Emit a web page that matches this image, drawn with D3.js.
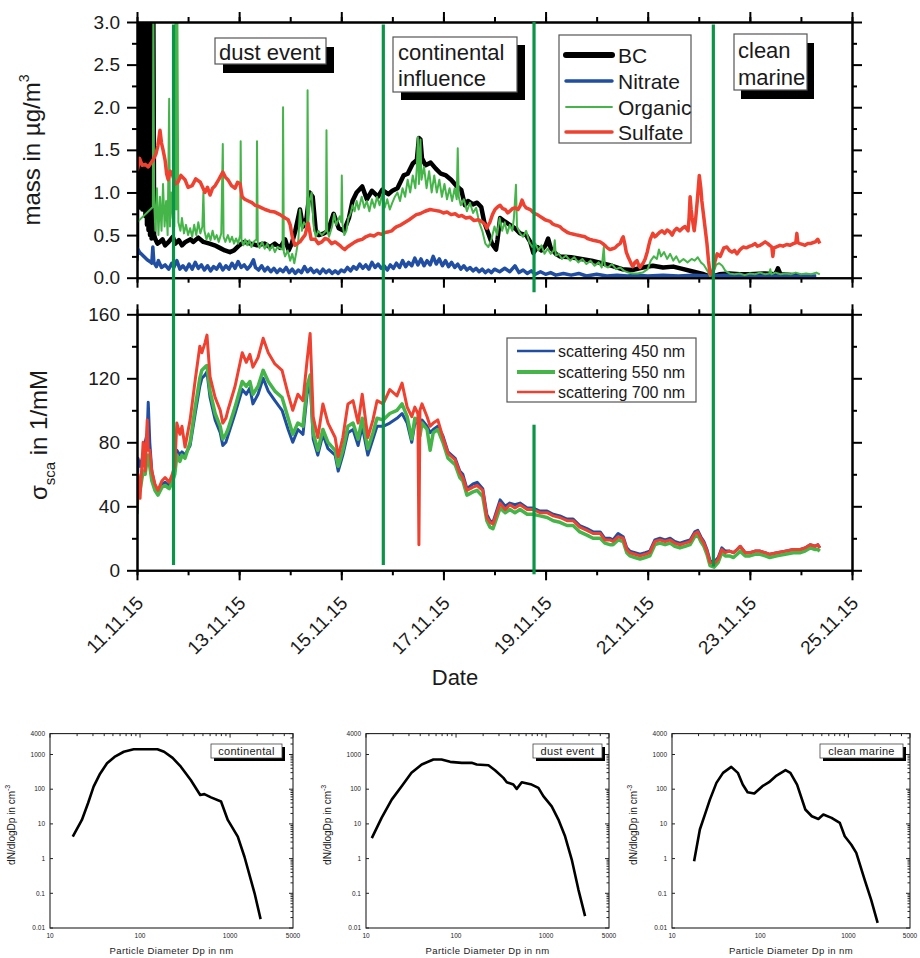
<!DOCTYPE html>
<html><head><meta charset="utf-8">
<script src="https://cdn.jsdelivr.net/npm/d3@7"></script>
<style>
body{margin:0;background:#fff}
svg{display:block}
text{font-family:"Liberation Sans",Arial,sans-serif;fill:#1a1a1a}
</style>
</head><body>
<svg id="chart" width="920" height="958"></svg>
<script>
// ---------------- DATA (time = day of November 2015, decimal) ----------------
const bcData = [[11.00,0.30],[11.005,3.2],[11.01,0.85],[11.02,3.2],[11.03,0.82],[11.04,3.2],[11.05,0.85],[11.06,3.2],[11.075,0.88],[11.09,3.2],[11.105,0.80],[11.12,3.2],[11.135,0.82],[11.15,3.2],[11.165,0.72],[11.18,3.2],[11.195,0.62],[11.21,3.2],[11.225,0.56],[11.24,3.2],[11.255,0.50],[11.27,3.2],[11.285,0.46],[11.30,0.60],[11.32,3.2],[11.335,0.50],
[11.36,0.45],[11.40,0.40],[11.45,0.42],[11.50,0.45],[11.55,0.38],[11.62,0.42],[11.70,0.48],[11.75,0.40],[11.82,0.44],[11.88,0.38],[11.95,0.42],[12.05,0.45],[12.10,0.42],[12.20,0.47],[12.30,0.42],[12.42,0.40],[12.52,0.38],[12.62,0.35],[12.72,0.32],[12.82,0.30],[12.90,0.32],[13.00,0.38],[13.10,0.42],[13.22,0.40],[13.35,0.38],[13.50,0.40],[13.60,0.36],[13.70,0.40],[13.80,0.35],[13.90,0.45],[13.97,0.32],[14.03,0.40],[14.10,0.55],[14.19,0.80],[14.25,0.60],[14.32,0.70],[14.38,1.00],[14.44,0.95],[14.50,0.55],[14.56,0.50],[14.66,0.52],[14.74,0.55],[14.85,0.75],[14.95,0.58],[15.05,0.55],[15.15,0.70],[15.22,0.90],[15.30,1.00],[15.41,1.07],[15.50,0.92],[15.60,1.02],[15.72,0.95],[15.80,1.03],[15.92,0.98],[16.00,1.02],[16.10,1.05],[16.22,1.20],[16.30,1.22],[16.40,1.34],[16.48,1.38],[16.52,1.64],[16.55,1.62],[16.58,1.40],[16.65,1.32],[16.75,1.35],[16.85,1.28],[16.95,1.22],[17.05,1.20],[17.15,1.15],[17.25,1.08],[17.35,1.03],[17.42,0.85],[17.48,0.90],[17.58,0.86],[17.66,0.88],[17.74,0.83],[17.80,0.65],[17.86,0.55],[17.95,0.40],[18.03,0.33],[18.06,0.45],[18.11,0.70],[18.20,0.66],[18.30,0.62],[18.40,0.58],[18.50,0.52],[18.62,0.50],[18.70,0.42],[18.76,0.29],[18.84,0.36],[18.92,0.32],[19.00,0.38],[19.05,0.46],[19.10,0.35],[19.20,0.28],[19.28,0.25],[19.50,0.24],[19.70,0.22],[19.90,0.20],[20.10,0.17],[20.30,0.14],[20.50,0.10],[20.70,0.09],[20.90,0.12],[21.10,0.14],[21.30,0.12],[21.50,0.13],[21.70,0.10],[21.90,0.07],[22.10,0.04],[22.25,0.01],[22.40,0.04],[22.60,0.05],[22.80,0.04],[23.00,0.04],[23.30,0.05],[23.50,0.04],[23.55,0.11],[23.60,0.04],[23.90,0.03],[24.00,0.03]];

const nitrateData = [[11.00,0.20],[11.01,0.34],[11.05,0.30],[11.10,0.27],[11.15,0.24],[11.20,0.21],[11.25,0.19],[11.29,0.17],[11.31,0.36],[11.33,0.18],[11.38,0.13],[11.42,0.20],[11.48,0.12],[11.55,0.15],[11.62,0.10],[11.68,0.17],[11.72,0.12],[11.78,0.20],[11.84,0.10],[11.90,0.14],[11.96,0.09],[12.02,0.16],[12.08,0.10],[12.14,0.18],[12.20,0.11],[12.26,0.15],[12.32,0.09],[12.38,0.14],[12.44,0.08],[12.50,0.13],[12.56,0.10],[12.62,0.16],[12.68,0.09],[12.74,0.14],[12.80,0.10],[12.86,0.17],[12.92,0.11],[12.98,0.19],[13.04,0.12],[13.10,0.15],[13.16,0.10],[13.22,0.14],[13.28,0.21],[13.32,0.12],[13.38,0.09],[13.44,0.14],[13.50,0.08],[13.56,0.12],[13.62,0.07],[13.68,0.11],[13.74,0.06],[13.80,0.10],[13.86,0.07],[13.92,0.12],[13.98,0.06],[14.04,0.10],[14.10,0.05],[14.16,0.09],[14.22,0.06],[14.28,0.13],[14.34,0.07],[14.40,0.11],[14.46,0.06],[14.52,0.09],[14.58,0.05],[14.64,0.10],[14.70,0.06],[14.76,0.09],[14.82,0.05],[14.88,0.08],[14.94,0.05],[15.00,0.09],[15.06,0.07],[15.12,0.12],[15.18,0.08],[15.24,0.13],[15.30,0.10],[15.36,0.16],[15.42,0.11],[15.48,0.15],[15.54,0.10],[15.60,0.18],[15.66,0.12],[15.72,0.16],[15.78,0.11],[15.84,0.14],[15.90,0.09],[15.96,0.15],[16.02,0.11],[16.08,0.17],[16.14,0.12],[16.20,0.20],[16.26,0.13],[16.32,0.18],[16.38,0.14],[16.44,0.23],[16.50,0.15],[16.56,0.22],[16.62,0.14],[16.68,0.20],[16.74,0.15],[16.80,0.25],[16.86,0.16],[16.92,0.22],[16.98,0.14],[17.04,0.20],[17.10,0.13],[17.16,0.18],[17.22,0.12],[17.28,0.16],[17.34,0.10],[17.40,0.14],[17.46,0.09],[17.52,0.12],[17.58,0.08],[17.64,0.11],[17.70,0.07],[17.76,0.10],[17.82,0.06],[17.88,0.09],[17.94,0.06],[18.00,0.10],[18.10,0.07],[18.20,0.11],[18.30,0.07],[18.40,0.14],[18.48,0.06],[18.56,0.09],[18.64,0.05],[18.72,0.08],[18.80,0.04],[18.90,0.07],[19.00,0.04],[19.10,0.06],[19.20,0.03],[19.35,0.05],[19.50,0.03],[19.65,0.05],[19.80,0.02],[20.00,0.04],[20.20,0.02],[20.40,0.03],[20.60,0.02],[20.80,0.03],[21.00,0.02],[21.30,0.03],[21.60,0.02],[21.90,0.03],[22.20,0.02],[22.50,0.03],[22.80,0.02],[23.10,0.02],[23.40,0.02],[23.70,0.02],[24.00,0.02],[24.30,0.02]];

const organicData = [[11.00,0.65],[11.31,0.83],[11.32,3.2],[11.335,0.90],[11.36,0.55],[11.39,1.05],[11.42,0.50],[11.45,0.95],[11.48,0.55],[11.51,1.10],[11.54,0.60],[11.57,0.90],[11.60,0.50],[11.63,2.10],[11.645,0.60],[11.67,1.00],[11.70,0.70],[11.73,0.60],[11.755,3.2],[11.77,0.80],[11.79,3.2],[11.81,0.65],[11.85,0.55],[11.88,0.70],[11.92,0.52],[11.96,0.62],[12.00,0.50],[12.04,0.58],[12.08,0.48],[12.12,0.62],[12.16,0.50],[12.20,0.65],[12.24,0.52],[12.28,0.60],[12.30,1.00],[12.32,0.55],[12.36,0.45],[12.40,0.52],[12.44,0.44],[12.48,0.55],[12.52,0.45],[12.56,0.50],[12.60,0.42],[12.65,0.52],[12.68,1.57],[12.695,0.48],[12.73,0.42],[12.78,0.50],[12.82,0.42],[12.86,0.48],[12.90,0.40],[12.94,0.46],[12.98,0.40],[13.02,0.50],[13.03,1.60],[13.045,0.45],[13.08,0.38],[13.12,0.45],[13.16,0.38],[13.20,0.44],[13.24,0.36],[13.28,0.42],[13.34,0.45],[13.35,1.60],[13.365,0.40],[13.40,0.35],[13.45,0.42],[13.50,0.34],[13.55,0.40],[13.60,0.32],[13.65,0.38],[13.70,0.30],[13.75,0.36],[13.85,0.33],[13.86,2.00],[13.875,0.30],[13.90,0.25],[13.95,0.32],[14.00,0.20],[14.04,0.28],[14.08,0.17],[14.12,0.30],[14.16,0.45],[14.19,0.80],[14.23,0.55],[14.27,0.65],[14.33,0.60],[14.34,2.20],[14.355,0.65],[14.38,0.90],[14.42,1.00],[14.46,0.60],[14.50,0.48],[14.55,0.55],[14.62,0.50],[14.70,0.55],[14.71,1.73],[14.725,0.55],[14.76,0.48],[14.82,0.60],[14.86,0.75],[14.90,0.62],[14.97,0.72],[15.00,0.65],[15.01,1.20],[15.025,0.62],[15.06,0.50],[15.10,0.55],[15.14,0.70],[15.18,0.75],[15.22,0.85],[15.26,0.78],[15.30,0.90],[15.34,0.80],[15.40,0.95],[15.45,0.82],[15.50,0.90],[15.55,0.78],[15.60,0.92],[15.65,0.82],[15.70,0.95],[15.75,0.85],[15.80,0.98],[15.85,0.82],[15.90,0.92],[15.95,0.80],[16.00,0.88],[16.05,0.95],[16.10,1.00],[16.15,0.90],[16.20,1.05],[16.25,0.95],[16.30,1.15],[16.35,1.00],[16.40,1.20],[16.45,1.05],[16.48,1.30],[16.50,1.65],[16.52,1.10],[16.55,1.62],[16.57,1.15],[16.62,1.30],[16.67,1.05],[16.72,1.25],[16.77,1.00],[16.82,1.20],[16.87,1.00],[16.92,1.15],[16.97,0.95],[17.02,1.10],[17.07,0.92],[17.12,1.05],[17.17,0.90],[17.22,1.05],[17.26,0.92],[17.28,1.52],[17.30,0.95],[17.34,0.85],[17.40,0.92],[17.46,0.78],[17.52,0.88],[17.58,0.76],[17.64,0.82],[17.70,0.65],[17.76,0.55],[17.82,0.40],[17.88,0.36],[17.94,0.45],[18.00,0.60],[18.05,0.50],[18.10,0.70],[18.15,0.55],[18.20,0.65],[18.25,0.52],[18.30,0.62],[18.35,0.55],[18.38,0.70],[18.42,1.09],[18.44,0.60],[18.50,0.52],[18.56,0.48],[18.62,0.55],[18.68,0.42],[18.74,0.36],[18.80,0.40],[18.86,0.32],[18.92,0.38],[18.98,0.28],[19.04,0.34],[19.10,0.28],[19.16,0.32],[19.18,0.44],[19.20,0.26],[19.26,0.28],[19.32,0.22],[19.40,0.26],[19.48,0.20],[19.56,0.24],[19.64,0.18],[19.72,0.22],[19.80,0.16],[19.88,0.20],[19.96,0.14],[20.04,0.18],[20.10,0.12],[20.14,0.36],[20.16,0.14],[20.22,0.12],[20.30,0.16],[20.38,0.10],[20.46,0.12],[20.54,0.08],[20.62,0.06],[20.70,0.05],[20.80,0.05],[20.90,0.06],[21.00,0.10],[21.06,0.20],[21.12,0.25],[21.18,0.22],[21.22,0.33],[21.26,0.25],[21.32,0.30],[21.38,0.22],[21.44,0.28],[21.50,0.20],[21.56,0.25],[21.62,0.18],[21.70,0.22],[21.78,0.18],[21.86,0.22],[21.92,0.20],[21.98,0.24],[22.04,0.18],[22.10,0.15],[22.17,0.08],[22.22,0.02],[22.28,0.05],[22.34,0.15],[22.40,0.17],[22.46,0.14],[22.52,0.08],[22.60,0.05],[22.70,0.04],[22.80,0.05],[22.90,0.03],[23.00,0.05],[23.10,0.04],[23.20,0.06],[23.30,0.04],[23.38,0.05],[23.40,0.10],[23.42,0.04],[23.50,0.06],[23.60,0.04],[23.70,0.05],[23.80,0.04],[23.90,0.06],[24.00,0.04],[24.10,0.05],[24.20,0.04],[24.30,0.06],[24.37,0.04]];

const sulfateData = [[11.00,1.25],[11.02,1.30],[11.05,1.40],[11.10,1.32],[11.16,1.33],[11.22,1.30],[11.29,1.36],[11.33,1.40],[11.37,1.45],[11.41,1.55],[11.45,1.73],[11.48,1.58],[11.51,1.50],[11.55,1.38],[11.58,1.22],[11.61,1.15],[11.65,1.25],[11.70,1.20],[11.75,1.10],[11.80,1.12],[11.86,1.20],[11.94,1.15],[12.00,1.06],[12.08,1.08],[12.15,1.16],[12.24,1.12],[12.30,1.04],[12.33,1.00],[12.38,1.06],[12.43,0.97],[12.48,1.05],[12.53,1.08],[12.60,1.15],[12.68,1.24],[12.73,1.18],[12.78,1.15],[12.85,1.08],[12.92,1.05],[12.97,1.12],[13.02,1.10],[13.04,1.02],[13.06,0.95],[13.11,0.92],[13.18,0.90],[13.25,0.88],[13.31,0.85],[13.37,0.84],[13.44,0.82],[13.51,0.80],[13.60,0.78],[13.70,0.77],[13.80,0.74],[13.90,0.70],[13.96,0.68],[14.00,0.62],[14.04,0.48],[14.09,0.38],[14.14,0.40],[14.19,0.42],[14.25,0.47],[14.29,0.50],[14.35,0.64],[14.38,0.55],[14.41,0.45],[14.49,0.45],[14.55,0.40],[14.62,0.42],[14.68,0.46],[14.74,0.45],[14.81,0.40],[14.88,0.42],[14.97,0.38],[15.02,0.35],[15.07,0.33],[15.12,0.36],[15.17,0.38],[15.27,0.42],[15.34,0.44],[15.41,0.45],[15.48,0.48],[15.56,0.50],[15.64,0.49],[15.72,0.52],[15.79,0.51],[15.86,0.53],[15.93,0.54],[15.99,0.55],[16.04,0.58],[16.09,0.60],[16.17,0.62],[16.25,0.65],[16.33,0.68],[16.40,0.71],[16.47,0.74],[16.54,0.75],[16.64,0.78],[16.74,0.80],[16.83,0.79],[16.93,0.78],[17.00,0.76],[17.07,0.77],[17.15,0.74],[17.23,0.75],[17.30,0.72],[17.36,0.73],[17.44,0.70],[17.52,0.71],[17.60,0.67],[17.68,0.68],[17.77,0.65],[17.82,0.62],[17.85,0.58],[17.88,0.62],[17.91,0.65],[17.96,0.74],[18.01,0.80],[18.06,0.83],[18.11,0.85],[18.16,0.81],[18.21,0.80],[18.26,0.76],[18.30,0.78],[18.35,0.81],[18.40,0.82],[18.46,0.80],[18.50,0.84],[18.54,0.91],[18.58,0.85],[18.62,0.82],[18.70,0.80],[18.75,0.77],[18.79,0.75],[18.84,0.74],[18.89,0.72],[18.94,0.70],[18.99,0.68],[19.04,0.67],[19.09,0.66],[19.14,0.63],[19.18,0.62],[19.23,0.61],[19.28,0.60],[19.33,0.57],[19.38,0.55],[19.43,0.53],[19.48,0.52],[19.55,0.51],[19.62,0.50],[19.70,0.49],[19.77,0.48],[19.82,0.46],[19.87,0.45],[19.93,0.44],[20.00,0.43],[20.07,0.42],[20.12,0.40],[20.16,0.38],[20.21,0.35],[20.26,0.33],[20.31,0.34],[20.36,0.35],[20.41,0.38],[20.46,0.40],[20.50,0.46],[20.52,0.48],[20.55,0.40],[20.58,0.30],[20.62,0.24],[20.65,0.20],[20.68,0.16],[20.71,0.13],[20.75,0.18],[20.79,0.20],[20.82,0.15],[20.85,0.12],[20.88,0.15],[20.91,0.17],[20.95,0.22],[20.99,0.30],[21.02,0.38],[21.05,0.45],[21.10,0.52],[21.14,0.48],[21.18,0.50],[21.23,0.53],[21.28,0.55],[21.33,0.52],[21.38,0.56],[21.43,0.54],[21.48,0.50],[21.52,0.55],[21.57,0.58],[21.63,0.55],[21.68,0.58],[21.73,0.60],[21.79,0.55],[21.81,0.70],[21.83,0.95],[21.85,0.80],[21.87,0.70],[21.91,0.55],[21.94,0.70],[21.97,0.90],[22.01,1.20],[22.04,1.05],[22.06,0.90],[22.10,0.70],[22.13,0.55],[22.16,0.40],[22.19,0.20],[22.22,0.05],[22.25,0.04],[22.28,0.08],[22.32,0.20],[22.36,0.28],[22.42,0.25],[22.49,0.35],[22.55,0.36],[22.60,0.32],[22.65,0.30],[22.70,0.32],[22.75,0.28],[22.81,0.33],[22.87,0.36],[22.93,0.35],[23.00,0.37],[23.05,0.38],[23.10,0.40],[23.15,0.37],[23.20,0.38],[23.25,0.40],[23.30,0.42],[23.35,0.40],[23.39,0.38],[23.43,0.36],[23.45,0.25],[23.47,0.35],[23.51,0.36],[23.59,0.38],[23.65,0.37],[23.72,0.39],[23.79,0.38],[23.85,0.40],[23.90,0.41],[23.92,0.52],[23.94,0.41],[23.98,0.40],[24.03,0.39],[24.08,0.38],[24.13,0.40],[24.18,0.40],[24.23,0.41],[24.28,0.42],[24.33,0.45],[24.37,0.40]];

const scatDays = [11.00,11.02,11.06,11.12,11.16,11.20,11.22,11.25,11.29,11.35,
11.41,11.49,11.55,11.63,11.69,11.74,11.78,11.84,11.88,11.94,
12.04,12.14,12.23,12.27,12.33,12.37,12.43,12.53,12.63,12.68,
12.74,12.78,12.92,13.06,13.14,13.21,13.27,13.37,13.47,13.57,
13.70,13.84,13.96,14.05,14.15,14.25,14.33,14.39,14.45,14.54,
14.64,14.74,14.88,14.94,15.03,15.13,15.23,15.33,15.41,15.52,
15.62,15.70,15.82,15.95,16.09,16.19,16.29,16.38,16.44,16.50,
16.52,16.54,16.58,16.68,16.74,16.80,16.89,16.99,17.09,17.23,
17.32,17.38,17.46,17.58,17.66,17.77,17.85,17.91,17.97,18.11,
18.21,18.30,18.40,18.50,18.64,18.75,18.89,19.03,19.15,19.28,
19.42,19.54,19.67,19.81,19.93,20.07,20.16,20.26,20.32,20.42,
20.52,20.59,20.65,20.75,20.85,20.95,21.04,21.14,21.24,21.34,
21.44,21.53,21.63,21.73,21.83,21.92,21.98,22.04,22.10,22.16,
22.22,22.30,22.38,22.45,22.52,22.60,22.68,22.75,22.81,22.91,
23.00,23.10,23.20,23.30,23.39,23.53,23.69,23.85,23.99,24.08,
24.18,24.28,24.33,24.37];
const scat450 = [42,70,65,72,80,86,105,80,62,53, 49,54,55,53,56,62,75,72,74,72, 78,98,115,120,122,124,108,94,86,78, 80,84,98,113,110,114,104,110,120,112, 106,100,88,80,88,85,110,118,82,72, 85,76,72,62,72,86,88,78,90,72, 82,90,90,92,95,98,92,80,92,92, 90,88,94,90,86,88,90,84,74,70, 62,60,51,54,55,51,35,31,30,44, 40,42,41,42,39,39,37,37,35,34, 32,32,28,26,24,24,20,20,19,23, 21,14,12,11,10,11,12,19,20,19, 20,18,17,18,19,24,25,21,18,13, 6,5,8,14,12,12,11,13,15,11, 11,12,12,11,10,11,12,13,13,14, 16,15,16,14];
const scat550 = [35,55,50,62,60,70,72,65,56,50, 47,52,53,51,55,60,72,68,72,70, 80,102,120,125,127,128,112,98,90,82, 85,88,102,118,115,118,110,115,125,118, 112,108,95,85,92,90,115,122,86,75, 88,80,75,65,75,90,92,82,95,76, 86,95,94,98,100,104,96,82,95,94, 88,84,92,88,75,86,88,80,70,66, 58,56,47,49,50,46,31,27,26,39, 36,38,36,38,35,35,34,33,31,30, 28,28,24,22,20,20,17,16,16,19, 18,11,9,8,7,8,9,16,17,16, 17,15,14,15,16,21,22,18,15,10, 3,2,5,11,9,9,8,10,12,9, 9,10,10,9,8,9,10,11,11,12, 14,13,13,12];
const scat700 = [38,60,45,80,62,94,75,75,62,54, 50,56,58,55,60,65,92,85,90,77, 94,119,140,136,142,147,121,108,100,92, 95,100,115,136,130,135,127,133,145,136, 129,125,110,100,110,106,131,148,96,83, 104,92,83,71,83,104,106,92,110,83, 94,106,104,113,109,117,102,96,102,98, 16,100,104,96,90,92,94,83,73,69, 61,58,50,52,53,50,33,30,29,42, 38,41,39,41,38,38,36,36,34,33, 31,31,27,25,23,23,19,19,18,21, 20,13,11,10,9,10,11,18,19,18, 19,17,16,17,18,23,24,20,17,12, 5,4,7,13,11,12,11,13,15,11, 11,12,12,11,10,11,12,13,13,14, 16,15,16,14];

const eventDays = [11.715, 15.823, 18.774, 22.285];

const massTicks = [0,0.5,1.0,1.5,2.0,2.5,3.0];
const massMinor = [0.25,0.75,1.25,1.75,2.25,2.75];
const scatTicks = [0,40,80,120,160];
const scatMinor = [20,60,100,140];

// particle size distributions: [diameter nm, dN/dlogDp]
const psdContinental = [[17.9,4.3],[22.6,13],[26.5,40],[30.5,118],[36,280],[43,557],[52,850],[66,1200],[85,1410],[156,1410],[185,1200],[230,800],[284,445],[366,184],[466,68],[518,72],[614,58],[794,44],[943,13],[1218,4.3],[1445,1.13],[1872,0.1],[2183,0.018]];
const psdDust = [[11.6,3.9],[14.9,14.9],[19.3,50],[24.9,122],[32,296],[41.6,515],[56,718],[69,718],[86,614],[116,575],[149,575],[170,515],[229,492],[271,353],[336,212],[366,159],[433,136],[472,102],[537,159],[692,136],[822,109],[933,63],[1155,32],[1371,13.3],[1626,4.4],[1928,0.94],[2286,0.128],[2712,0.022]];
const psdMarine = [[17.8,0.84],[20.7,6.9],[23.6,18.6],[26.9,50],[31.9,152],[37.9,296],[47,440],[55.8,296],[63.4,136],[72,82],[85.7,75],[106,122],[126,159],[150,237],[194,353],[220,296],[262,136],[325,26],[385,16.6],[457,13.9],[520,18.6],[645,14.9],[800,10.7],[910,4.4],[1081,2.5],[1230,1.46],[1525,0.25],[1811,0.066],[2148,0.014]];
const psdYTicks = [0.01,0.1,1,10,100,1000,4000];
const psdYLabels = ["0.01","0.1","1","10","100","1000","4000"];
const psdXTicks = [10,100,1000,5000];
const psdXLabels = ["10","100","1000","5000"];

// ---------------- DRAWING ----------------
const svg = d3.select("#chart");
const FONT = '"Liberation Sans", Arial, sans-serif';
const C = {bc:"#000000", nitrate:"#1f4ea3", organic:"#45b549", sulfate:"#ef4130", event:"#0a9447"};

const toDate = d => new Date(Date.UTC(2015,10,1) + (d-1)*864e5);
const X0 = 137, X1 = 852;
const x = d3.scaleUtc().domain([toDate(11), toDate(25)]).range([X0, X1]);
const yMass = d3.scaleLinear().domain([0,3]).range([277.7,22]);
const yScat = d3.scaleLinear().domain([0,160]).range([570.3,314.3]);

const defs = svg.append("defs");
defs.append("clipPath").attr("id","clipMass").append("rect").attr("x",X0).attr("y",22).attr("width",X1-X0).attr("height",255.7);
defs.append("clipPath").attr("id","clipScat").append("rect").attr("x",X0).attr("y",314.3).attr("width",X1-X0).attr("height",256);

function styleAxis(g, fs){
  g.selectAll("path.domain").attr("stroke","#000").attr("stroke-width",2);
  g.selectAll(".tick line").attr("stroke","#000").attr("stroke-width",2);
  g.attr("font-family",FONT).attr("font-size",fs);
  g.selectAll("text").attr("fill","#1a1a1a");
}
function drawFrame(yS, majors, minors, fmt, top, bot, withXLabels){
  const g = svg.append("g");
  const add = (tr, axis) => { const a = g.append("g").attr("transform",tr).call(axis); styleAxis(a,19); return a; };
  add(`translate(${X0},0)`, d3.axisLeft(yS).tickValues(minors).tickSize(5).tickSizeOuter(0).tickFormat(""));
  add(`translate(${X0},0)`, d3.axisLeft(yS).tickValues(majors).tickSize(10).tickSizeOuter(0).tickPadding(7).tickFormat(fmt));
  add(`translate(${X1},0)`, d3.axisRight(yS).tickValues(minors).tickSize(5).tickSizeOuter(0).tickFormat(""));
  add(`translate(${X1},0)`, d3.axisRight(yS).tickValues(majors).tickSize(10).tickSizeOuter(0).tickFormat(""));
  add(`translate(0,${top})`, d3.axisTop(x).ticks(d3.utcDay.every(1)).tickSize(5).tickSizeOuter(0).tickFormat(""));
  add(`translate(0,${top})`, d3.axisTop(x).ticks(d3.utcDay.every(2)).tickSize(10).tickSizeOuter(0).tickFormat(""));
  add(`translate(0,${bot})`, d3.axisBottom(x).ticks(d3.utcDay.every(1)).tickSize(5).tickSizeOuter(0).tickFormat(""));
  const b = add(`translate(0,${bot})`, d3.axisBottom(x).ticks(d3.utcDay.every(2)).tickSize(10).tickSizeOuter(0)
      .tickFormat(withXLabels ? d3.utcFormat("%d.%m.%y") : ""));
  if (withXLabels){
    b.selectAll("text").attr("y",0).attr("dy",0).attr("x",0)
     .attr("transform","translate(7,34) rotate(-45)").style("text-anchor","end");
  }
}

const line = (yS) => d3.line().x(d => x(toDate(d[0]))).y(d => yS(d[1]));

// --- top panel series
const gm = svg.append("g").attr("clip-path","url(#clipMass)");
gm.append("path").datum(bcData).attr("d",line(yMass)).attr("fill","none").attr("stroke",C.bc).attr("stroke-width",4.5).attr("stroke-linejoin","round");
gm.append("path").datum(nitrateData).attr("d",line(yMass)).attr("fill","none").attr("stroke",C.nitrate).attr("stroke-width",3.5).attr("stroke-linejoin","round");
gm.append("path").datum(organicData).attr("d",line(yMass)).attr("fill","none").attr("stroke",C.organic).attr("stroke-width",2).attr("stroke-linejoin","round");
gm.append("path").datum(sulfateData).attr("d",line(yMass)).attr("fill","none").attr("stroke",C.sulfate).attr("stroke-width",3.5).attr("stroke-linejoin","round");

// --- scattering series
const gs = svg.append("g").attr("clip-path","url(#clipScat)");
const scatSeries = [{v:scat450,c:C.nitrate,w:3},{v:scat550,c:C.organic,w:3.5},{v:scat700,c:C.sulfate,w:3}];
scatSeries.forEach(s => {
  const pts = scatDays.map((d,i) => [d, s.v[i]]);
  gs.append("path").datum(pts).attr("d",line(yScat)).attr("fill","none").attr("stroke",s.c).attr("stroke-width",s.w).attr("stroke-linejoin","round");
});

drawFrame(yMass, massTicks, massMinor, d3.format(".1f"), 22, 277.7, false);
drawFrame(yScat, scatTicks, scatMinor, d3.format("d"), 314.3, 570.3, true);

// --- event lines
const evSegs = [
  [0, yMass(2.97), yScat(3.3)],
  [1, yMass(2.97), yScat(3.3)],
  [2, yMass(3.0), yMass(-0.17)],
  [2, yScat(91), yScat(-2.5)],
  [3, yMass(2.97), yScat(2.3)]
];
svg.append("g").selectAll("line").data(evSegs).join("line")
  .attr("x1", d => x(toDate(eventDays[d[0]]))).attr("x2", d => x(toDate(eventDays[d[0]])))
  .attr("y1", d => d[1]).attr("y2", d => d[2])
  .attr("stroke", C.event).attr("stroke-width", 3.2);

// --- axis titles
svg.append("text").attr("transform","translate(40,150) rotate(-90)").attr("text-anchor","middle")
  .attr("font-size",24).attr("font-family",FONT)
  .call(t => { t.append("tspan").text("mass in µg/m"); t.append("tspan").attr("font-size",14).attr("dy",-11).text("3"); });
svg.append("text").attr("transform","translate(47,435) rotate(-90)").attr("text-anchor","middle")
  .attr("font-size",24).attr("font-family",FONT)
  .call(t => { t.append("tspan").text("σ"); t.append("tspan").attr("font-size",15).attr("dy",8).text("sca");
               t.append("tspan").attr("dy",-8).text(" in 1/mM"); });
svg.append("text").attr("x",455).attr("y",685).attr("text-anchor","middle").attr("font-size",22).attr("font-family",FONT).text("Date");

// --- annotation boxes (top panel)
function annot(bx, by, bw, bh, lines, tx, ty0, lh, fs, sx, sy, strokeW){
  const g = svg.append("g");
  g.append("rect").attr("x",bx+sx).attr("y",by+sy).attr("width",bw).attr("height",bh).attr("fill","#000");
  g.append("rect").attr("x",bx).attr("y",by).attr("width",bw).attr("height",bh).attr("fill","#fff").attr("stroke","#555").attr("stroke-width",strokeW);
  lines.forEach((s,i) => g.append("text").attr("x",tx).attr("y",ty0+i*lh).attr("font-size",fs).attr("font-family",FONT).text(s));
}
annot(215,38,111,26,["dust event"],219,60,0,22,8,9,1.2);
annot(393,37,124,55,["continental","influence"],398,60,26,22,8,8,1.2);
annot(734,34,73,56,["clean","marine"],738,58,27,22,7,9,1.2);

// --- legend top
const lg = svg.append("g");
lg.append("rect").attr("x",559).attr("y",35).attr("width",132).attr("height",108).attr("fill","#fff").attr("stroke","#555").attr("stroke-width",1.2);
const legItems = [["BC",C.bc,6,55],["Nitrate",C.nitrate,3.5,81],["Organic",C.organic,1.8,107],["Sulfate",C.sulfate,3.5,132]];
legItems.forEach(([name,col,w,y]) => {
  lg.append("line").attr("x1",566).attr("x2",612).attr("y1",y).attr("y2",y).attr("stroke",col).attr("stroke-width",w).attr("stroke-linecap","round");
  lg.append("text").attr("x",618).attr("y",y+8).attr("font-size",21).attr("font-family",FONT).text(name);
});
// --- legend scattering
const ls = svg.append("g");
ls.append("rect").attr("x",507).attr("y",338).attr("width",189).attr("height",64).attr("fill","#fff").attr("stroke","#555").attr("stroke-width",1.2);
const sItems = [["scattering 450 nm",C.nitrate,2.5,351],["scattering 550 nm",C.organic,4,372],["scattering 700 nm",C.sulfate,2.5,392]];
sItems.forEach(([name,col,w,y]) => {
  ls.append("line").attr("x1",517).attr("x2",555).attr("y1",y).attr("y2",y).attr("stroke",col).attr("stroke-width",w);
  ls.append("text").attr("x",558).attr("y",y+6).attr("font-size",16).attr("font-family",FONT).text(name);
});

// --- size distribution panels
function psdPanel(left, w, data, label, bx, bw){
  const top = 733.6, bot = 928;
  const px = d3.scaleLog().domain([10,5000]).range([left,left+w]);
  const py = d3.scaleLog().domain([0.01,4000]).range([bot,top]);
  const g = svg.append("g");
  g.append("rect").attr("x",left).attr("y",top).attr("width",w).attr("height",bot-top).attr("fill","none").attr("stroke","#222").attr("stroke-width",1.1);
  const xMinor = [20,30,40,50,60,70,80,90,200,300,400,500,600,700,800,900,2000,3000,4000];
  g.selectAll(".xm").data(xMinor).join("line").attr("x1",d=>px(d)).attr("x2",d=>px(d)).attr("y1",top).attr("y2",top+2.5).attr("stroke","#222");
  g.selectAll(".xM").data(psdXTicks).join("line").attr("x1",d=>px(d)).attr("x2",d=>px(d)).attr("y1",top).attr("y2",top+4).attr("stroke","#222");
  const yMinor = [];
  [0.01,0.1,1,10,100,1000].forEach(b => [2,3,4,5,6,7,8,9].forEach(k => { if (b*k < 4000) yMinor.push(b*k); }));
  g.selectAll(".ym").data(yMinor).join("line").attr("x1",left+w).attr("x2",left+w-2.5).attr("y1",d=>py(d)).attr("y2",d=>py(d)).attr("stroke","#222");
  g.selectAll(".yM").data(psdYTicks).join("line").attr("x1",left).attr("x2",left+3).attr("y1",d=>py(d)).attr("y2",d=>py(d)).attr("stroke","#222");
  g.selectAll(".yM2").data(psdYTicks).join("line").attr("x1",left+w).attr("x2",left+w-4).attr("y1",d=>py(d)).attr("y2",d=>py(d)).attr("stroke","#222");
  g.selectAll(".yl").data(psdYTicks).join("text").attr("x",left-5).attr("y",d=>py(d)).attr("dy","0.35em")
    .attr("text-anchor","end").attr("font-size",6.5).attr("font-family",FONT).attr("fill","#333").text((d,i)=>psdYLabels[i]);
  g.selectAll(".xl").data(psdXTicks).join("text").attr("x",d=>px(d)).attr("y",938)
    .attr("text-anchor","middle").attr("font-size",6.5).attr("font-family",FONT).attr("fill","#333").text((d,i)=>psdXLabels[i]);
  g.append("text").attr("x",left+w/2).attr("y",954).attr("text-anchor","middle").attr("font-size",9.5).attr("letter-spacing",0.4)
    .attr("font-family",FONT).attr("fill","#333").text("Particle Diameter Dp in nm");
  g.append("text").attr("transform",`translate(${left-35},${(top+bot)/2-6}) rotate(-90)`).attr("text-anchor","middle")
    .attr("font-size",10).attr("font-family",FONT).attr("fill","#333")
    .call(t => { t.append("tspan").text("dN/dlogDp in cm"); t.append("tspan").attr("font-size",7).attr("dy",-5).text("-3"); });
  g.append("path").datum(data).attr("d", d3.line().x(d=>px(d[0])).y(d=>py(d[1])))
    .attr("fill","none").attr("stroke","#000").attr("stroke-width",2.6).attr("stroke-linejoin","round");
  g.append("rect").attr("x",bx+3).attr("y",747).attr("width",bw).attr("height",14).attr("fill","#000");
  g.append("rect").attr("x",bx).attr("y",744).attr("width",bw).attr("height",14).attr("fill","#fff").attr("stroke","#444").attr("stroke-width",0.8);
  g.append("text").attr("x",bx+bw/2).attr("y",755).attr("text-anchor","middle").attr("font-size",11).attr("letter-spacing",0.3)
    .attr("font-family",FONT).text(label);
}
psdPanel(50, 243, psdContinental, "continental", 211, 71);
psdPanel(366, 243, psdDust, "dust event", 533, 69);
psdPanel(672, 238, psdMarine, "clean marine", 820, 83);
</script>
</body></html>
